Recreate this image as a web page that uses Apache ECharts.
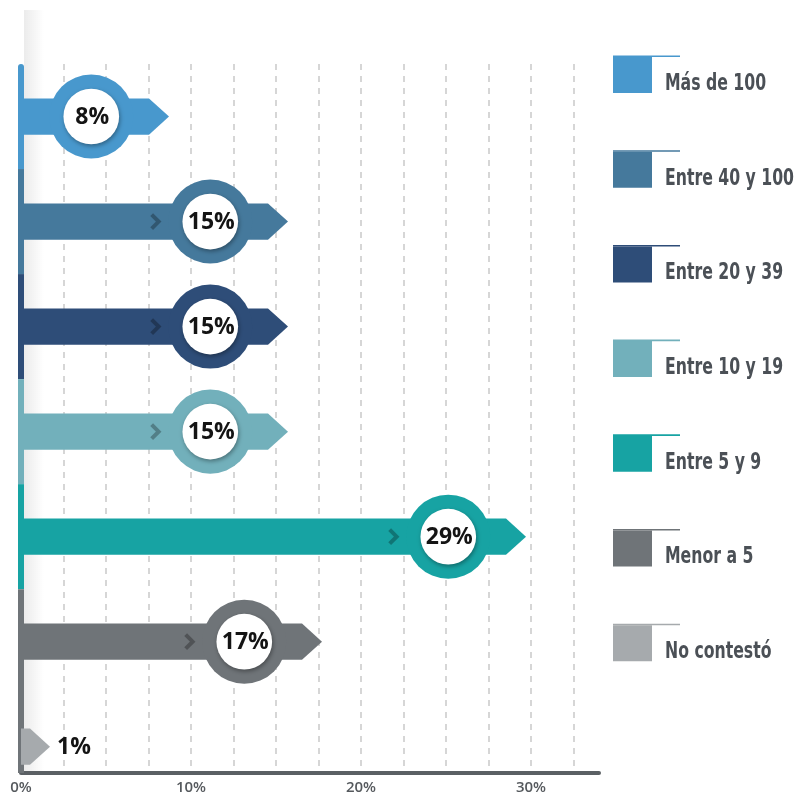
<!DOCTYPE html>
<html>
<head>
<meta charset="utf-8">
<script src="https://cdn.jsdelivr.net/npm/echarts@6/dist/echarts.min.js"></script>
<style>
html,body{margin:0;padding:0;background:#fff;}
#main{width:797px;height:798px;}
</style>
</head>
<body>
<div id="main"></div>
<script>
// ---- data ----
const categories = ['Más de 100', 'Entre 40 y 100', 'Entre 20 y 39', 'Entre 10 y 19', 'Entre 5 y 9', 'Menor a 5', 'No contestó'];
const values = [8, 15, 15, 15, 29, 17, 1];
const xTickLabels = [0, 10, 20, 30];

// ---- styles ----
const palette = ['#4898cd', '#45799c', '#2e4d78', '#72b0bb', '#17a3a3', '#6f7478', '#a6aaad'];

const measureCtx = document.createElement('canvas').getContext('2d');
function hasFont(f) {
  const s = 'Entre 40 y 100 Más contestó';
  measureCtx.font = '24px monospace';
  const w1 = measureCtx.measureText(s).width;
  measureCtx.font = '24px "' + f + '", monospace';
  const w2 = measureCtx.measureText(s).width;
  return Math.abs(w1 - w2) > 0.5;
}
let legendFamily = 'Roboto';
if (hasFont('Liberation Sans Narrow')) legendFamily = 'Liberation Sans Narrow';
else if (hasFont('DejaVu Sans Condensed')) legendFamily = 'DejaVu Sans Condensed';
const legendFont = 'bold 23px "' + legendFamily + '", Roboto, sans-serif';
measureCtx.font = legendFont;
const legendScale = Math.min(1, 129 / measureCtx.measureText('Entre 40 y 100').width);

const n = categories.length;

function renderItem(params, api) {
  const v = api.value(0);
  const i = api.value(1);
  const c = api.coord([v, i]);
  const x0 = api.coord([0, i])[0];
  const y = c[1];
  const yTop = api.coord([0, i - 0.5])[1];
  const yBot = api.coord([0, i + 0.5])[1];
  const bandH = api.size([0, 1])[1];
  const cs = params.coordSys;
  const color = api.visual('color');
  const h = bandH * 0.345;
  const tip = c[0] + 12;
  const bodyEnd = tip - 20;
  const children = [];
  if (i < n - 1) {
    const sEnd = (i === n - 2) ? cs.y + cs.height : yBot;
    children.push({
      type: 'rect',
      shape: { x: x0 - 3, y: yTop, width: 6, height: sEnd - yTop, r: i === 0 ? [3, 3, 0, 0] : 0 },
      style: { fill: color }
    });
  }
  children.push({
    type: 'polygon',
    shape: { points: [[x0, y - h / 2], [bodyEnd, y - h / 2], [tip, y], [bodyEnd, y + h / 2], [x0, y + h / 2]] },
    style: { fill: color }
  });
  const R = bandH * 0.4;
  const r = bandH * 0.265;
  const cx = tip - bandH * 0.74;
  const label = v + '%';
  if (cx - R > x0) {
    const chx = cx - bandH * 0.52;
    if (chx > x0 + 40) {
      children.push({
        type: 'polyline',
        shape: { points: [[chx - 4, y - 7], [chx + 3, y], [chx - 4, y + 7]] },
        style: { stroke: 'rgba(0,0,0,0.28)', lineWidth: 4, fill: null }
      });
    }
    children.push({ type: 'circle', shape: { cx: cx, cy: y, r: R }, style: { fill: color } });
    children.push({
      type: 'circle', shape: { cx: cx, cy: y, r: r },
      style: { fill: '#ffffff', shadowBlur: 4, shadowOffsetX: 1, shadowOffsetY: 2, shadowColor: 'rgba(0,0,0,0.35)' }
    });
    children.push({
      type: 'text',
      style: { x: cx + 1, y: y + 1, text: label, align: 'center', verticalAlign: 'middle',
        font: 'bold 23px "Open Sans", "Noto Sans", sans-serif', fill: '#141414' }
    });
  } else {
    children.push({
      type: 'text',
      style: { x: tip + 7, y: y + 1, text: label, align: 'left', verticalAlign: 'middle',
        font: 'bold 23px "Open Sans", "Noto Sans", sans-serif', fill: '#141414' }
    });
  }
  return { type: 'group', children: children };
}

const series = categories.map(function (name, i) {
  return {
    type: 'custom',
    name: name,
    renderItem: renderItem,
    itemStyle: { color: palette[i] },
    encode: { x: 0, y: 1 },
    data: [[values[i], i]],
    z: 3
  };
});

// legend drawn as graphic so the condensed lettering can be matched
const legendGraphics = [];
categories.forEach(function (name, i) {
  const top = 57 + i * 94.7;
  legendGraphics.push({ type: 'rect', silent: true, shape: { x: 613, y: top, width: 39, height: 36 }, style: { fill: palette[i] } });
  legendGraphics.push({ type: 'rect', silent: true, shape: { x: 613, y: top - 1.5, width: 67, height: 1.6 }, style: { fill: palette[i] } });
  legendGraphics.push({
    type: 'text', silent: true, x: 665, y: top + 27, scaleX: legendScale,
    style: { text: name, font: legendFont, fill: '#4b5056', verticalAlign: 'middle', align: 'left' }
  });
});

const chart = echarts.init(document.getElementById('main'), null, { renderer: 'canvas' });
chart.setOption({
  backgroundColor: '#ffffff',
  animation: false,
  grid: { left: 21, right: 198, top: 64, bottom: 25 },
  xAxis: {
    type: 'value', min: 0, max: 34, interval: 2.5,
    axisLine: { show: true, onZero: false, lineStyle: { color: '#5b6064', width: 4 } },
    axisTick: { show: false },
    axisLabel: {
      margin: 7, color: '#55595d', fontSize: 15, fontWeight: 600,
      fontFamily: '"Open Sans", "Noto Sans", sans-serif',
      showMaxLabel: false,
      formatter: function (v) { return xTickLabels.indexOf(Math.round(v * 100) / 100) >= 0 ? v + '%' : ''; }
    },
    splitLine: { show: true, showMinLine: false, showMaxLine: false,
      lineStyle: { type: [6, 6], color: '#c9c9c9', width: 1.5 } }
  },
  yAxis: { type: 'value', inverse: true, min: -0.5, max: n - 0.75, show: false },
  graphic: [{
    type: 'rect', z: 0, silent: true,
    shape: { x: 24, y: 10, width: 20, height: 763 },
    style: { fill: new echarts.graphic.LinearGradient(0, 0, 1, 0, [
      { offset: 0, color: 'rgba(0,0,0,0.08)' }, { offset: 1, color: 'rgba(0,0,0,0)' }]) }
  }].concat(legendGraphics),
  series: series
});
</script>
</body>
</html>
